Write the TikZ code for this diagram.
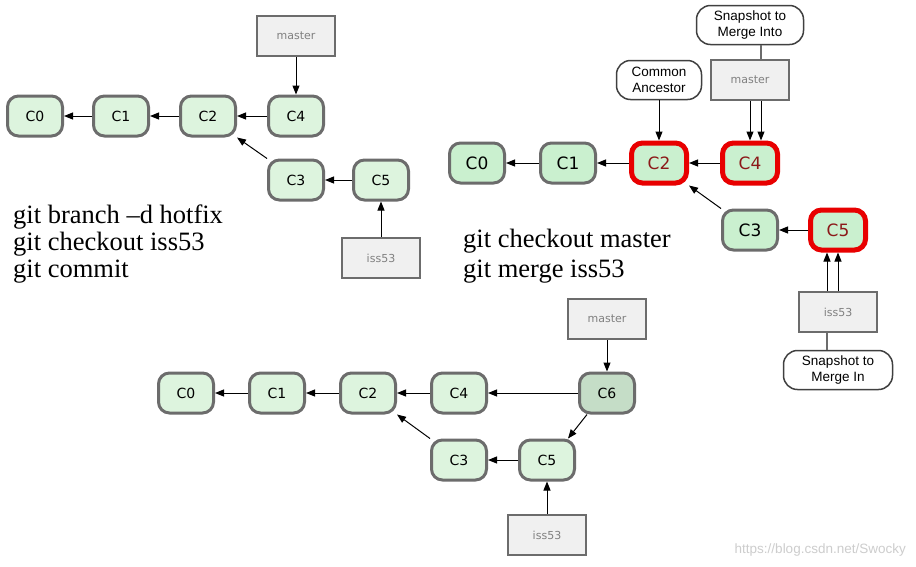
\documentclass[tikz,border=0pt]{standalone}
\usepackage{fontspec}
\usepackage{xcolor}
\usepackage{tikz}
\usetikzlibrary{arrows.meta}
\newfontfamily\commitfont{DejaVu Sans}
\newfontfamily\notefont{Liberation Sans}
\newfontfamily\cmdfont{Liberation Serif}
\definecolor{cfill}{RGB}{221,244,222}
\definecolor{cfilltwo}{RGB}{202,240,207}
\definecolor{cfillsix}{RGB}{197,221,199}
\definecolor{cborder}{RGB}{108,108,108}
\definecolor{redborder}{RGB}{232,0,0}
\definecolor{redtext}{RGB}{140,25,25}
\definecolor{bfill}{RGB}{240,240,240}
\definecolor{btext}{RGB}{128,128,128}
\definecolor{wmark}{RGB}{205,205,205}

\begin{document}
\begin{tikzpicture}[x=1pt,y=-1pt,
  commit/.style={draw=cborder,line width=3pt,fill=cfill,rounded corners=11pt,
    minimum width=55pt,minimum height=40pt,inner sep=0pt,
    font=\commitfont\fontsize{14}{14}\selectfont},
  bigcommit/.style={commit,fill=cfilltwo,font=\commitfont\fontsize{17}{17}\selectfont},
  redcommit/.style={bigcommit,draw=redborder,line width=5pt,text=redtext},
  branch/.style={draw=cborder,line width=2.5pt,fill=bfill,text=btext,
    minimum width=78pt,minimum height=40pt,inner sep=0pt,
    font=\commitfont\fontsize{11}{11}\selectfont},
  note/.style={draw=black!75,line width=1.5pt,fill=white,rounded corners=14pt,
    minimum width=85pt,minimum height=39pt,align=center,inner sep=0pt,
    font=\notefont\fontsize{13.5}{16}\selectfont},
  cmd/.style={anchor=base west,inner sep=0pt,font=\cmdfont\fontsize{26.5}{30}\selectfont},
  ptr/.style={-{Triangle[length=9pt,width=7pt]},line width=1pt},
  link/.style={line width=1.2pt,draw=cborder}]

\fill[white] (0,0) rectangle (916,566);
\useasboundingbox (0,0) rectangle (916,566);

% before the merge
\node[commit] (aC0) at (35,116) {C0};
\node[commit] (aC1) at (121,116) {C1};
\node[commit] (aC2) at (208,116) {C2};
\node[commit] (aC4) at (296,116) {C4};
\node[commit] (aC3) at (296,180) {C3};
\node[commit] (aC5) at (381,180) {C5};
\node[branch] (amaster) at (296,36) {master};
\node[branch] (aiss) at (381,258) {iss53};

\draw[ptr] (aC1) -- (aC0);
\draw[ptr] (aC2) -- (aC1);
\draw[ptr] (aC4) -- (aC2);
\draw[ptr] (aC3.north west) -- (aC2.south east);
\draw[ptr] (aC5) -- (aC3);
\draw[ptr] (amaster) -- (aC4);
\draw[ptr] (aiss) -- (aC5);

\node[cmd] (acmdA) at (13,223) {git branch –d hotfix};
\node[cmd] (acmdB) at (13,250) {git checkout iss53};
\node[cmd] (acmdC) at (13,277) {git commit};

% the three snapshots
\node[bigcommit] (bC0) at (477,163) {C0};
\node[bigcommit] (bC1) at (568,163) {C1};
\node[redcommit] (bC2) at (659,163) {C2};
\node[redcommit] (bC4) at (750,163) {C4};
\node[bigcommit] (bC3) at (750,230) {C3};
\node[redcommit] (bC5) at (838,230) {C5};
\node[branch] (bmaster) at (750,80) {master};
\node[branch] (biss) at (838,312) {iss53};
\node[note] (bancestor) at (659,80) {Common\\Ancestor};
\node[note,minimum width=107pt] (binto) at (750,25) {Snapshot to\\Merge Into};
\node[note,minimum width=109pt] (bin) at (838,370) {Snapshot to\\Merge In};

\draw[ptr] (bC1) -- (bC0);
\draw[ptr] (bC2) -- (bC1);
\draw[ptr] (bC4) -- (bC2);
\draw[ptr] (bC3.north west) -- (bC2.south east);
\draw[ptr] (bC5) -- (bC3);
\draw[ptr] (bancestor) -- (bC2);
\draw[ptr] (bmaster.south) -- (bC4.north);
\draw[ptr] ([xshift=11pt]bmaster.south) -- ([xshift=11pt]bC4.north);
\draw[link] ([xshift=11pt]binto.south) -- ([xshift=11pt]bmaster.north);
\draw[ptr] (biss.north) -- (bC5.south);
\draw[ptr] ([xshift=-11pt]biss.north) -- ([xshift=-11pt]bC5.south);
\draw[link] ([xshift=-11pt]biss.south) -- ([xshift=-11pt]bin.north);

\node[cmd] (bcmdA) at (463,247) {git checkout master};
\node[cmd] (bcmdB) at (463,277) {git merge iss53};

% after the merge
\node[commit] (cC0) at (186,393) {C0};
\node[commit] (cC1) at (277,393) {C1};
\node[commit] (cC2) at (368,393) {C2};
\node[commit] (cC4) at (459,393) {C4};
\node[commit,fill=cfillsix] (cC6) at (607,393) {C6};
\node[commit] (cC3) at (459,460) {C3};
\node[commit] (cC5) at (547,460) {C5};
\node[branch] (cmaster) at (607,319) {master};
\node[branch] (ciss) at (547,535) {iss53};

\draw[ptr] (cC1) -- (cC0);
\draw[ptr] (cC2) -- (cC1);
\draw[ptr] (cC4) -- (cC2);
\draw[ptr] (cC6) -- (cC4);
\draw[ptr] (cC3.north west) -- (cC2.south east);
\draw[ptr] ([xshift=9pt]cC6.south west) -- ([xshift=-8pt]cC5.north east);
\draw[ptr] (cC5) -- (cC3);
\draw[ptr] (cmaster) -- (cC6);
\draw[ptr] (ciss) -- (cC5);

\node[anchor=base east,inner sep=0pt,text=wmark,font=\notefont\fontsize{13.5}{14}\selectfont] (wm) at (906,553) {https://blog.csdn.net/Swocky};

\end{tikzpicture}
\end{document}
